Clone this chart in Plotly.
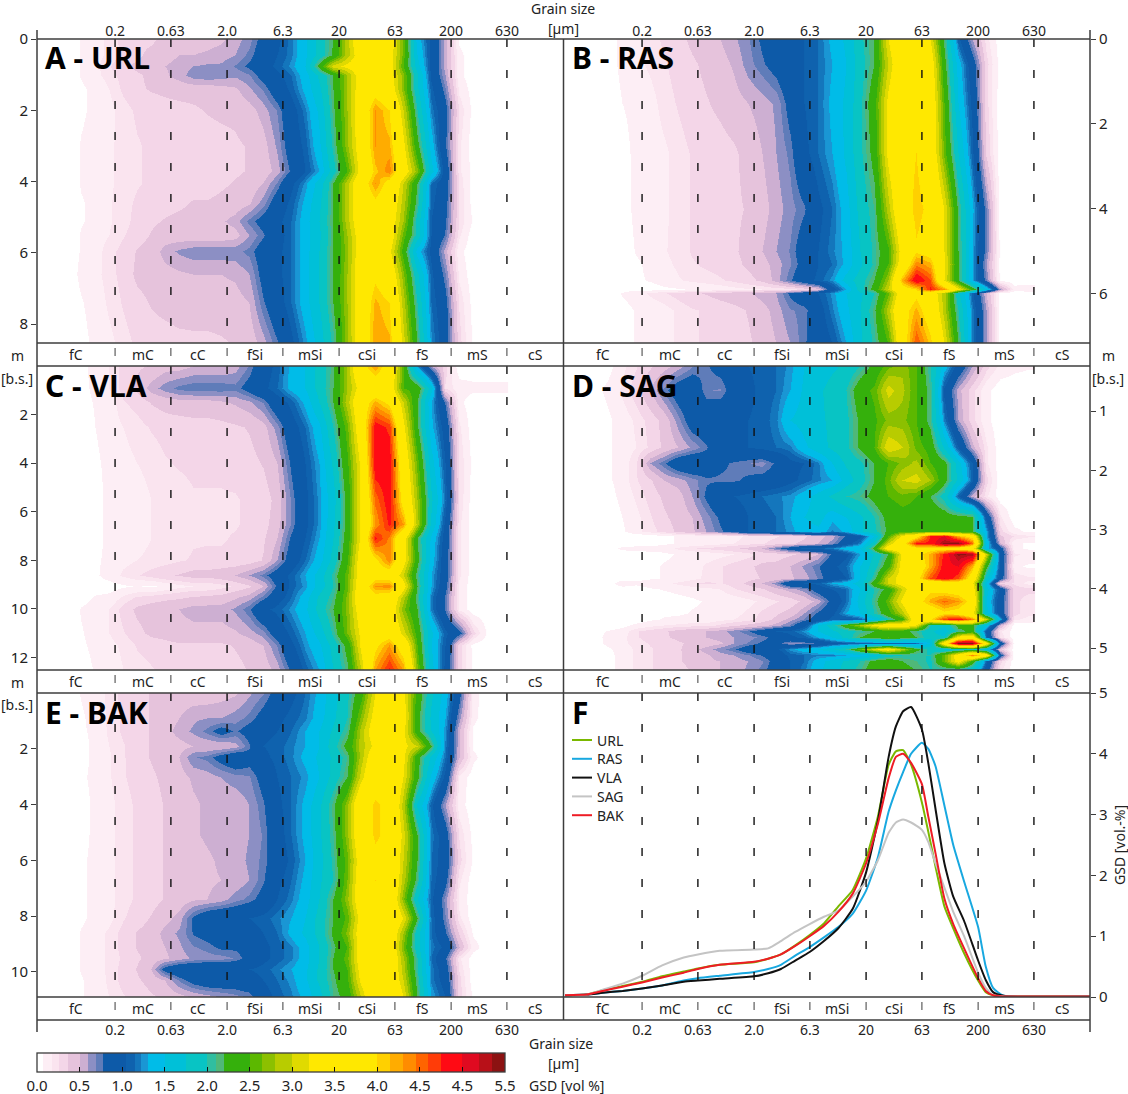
# { import the libraries
import numpy as np
import plotly.graph_objects as go
# }

# { shared labels and classes
size_ticks = [0.2, 0.63, 2.0, 6.3, 20, 63, 200, 630]
size_labels = ['0.2', '0.63', '2.0', '6.3', '20', '63', '200', '630']
class_names = ['fC', 'mC', 'cC', 'fSi', 'mSi', 'cSi', 'fS', 'mS', 'cS']
class_centers = [0.09, 0.355, 1.11, 3.55, 11, 35.5, 112, 347, 1122]
grain_um = [0.056, 0.075, 0.1, 0.133, 0.178, 0.237, 0.316, 0.422, 0.562, 0.75, 1.0,
            1.33, 1.78, 2.37, 3.16, 4.22, 5.62, 7.5, 10, 13.3, 17.8, 23.7, 31.6,
            42.2, 56.2, 75, 100, 133, 178, 237, 316, 422, 562]
# }

# { A - URL
url_depth = [0, .45, .75, 1.0, 1.4, 2, 3, 3.7, 4.05, 4.6, 5.1, 5.5, 5.95, 6.6, 7.4, 8.55]
url_gsd = [
    [0,0,.08,.15,.2,.3,.35,.35,.4,.45,.45,.45,.48,.55,.65,.85,1.0,1.2,1.45,1.85,2.2,2.9,3.7,4.0,3.5,2.6,1.4,1.0,.55,.05,0,0,0],
    [0,0,.08,.15,.2,.28,.35,.4,.45,.5,.5,.52,.55,.6,.72,.9,1.05,1.2,1.45,1.85,2.25,2.9,3.5,3.7,3.4,2.6,1.5,1.0,.55,.1,0,0,0],
    [0,0,.08,.15,.25,.35,.4,.45,.5,.55,.6,.62,.62,.7,.8,.95,1.1,1.25,1.5,2.3,3.1,3.3,3.5,3.7,3.4,2.5,1.6,1.0,.55,.1,0,0,0],
    [0,0,.08,.15,.22,.3,.35,.4,.48,.55,.65,.68,.65,.62,.68,.85,1.0,1.15,1.4,1.8,2.2,2.8,3.5,3.6,3.4,2.7,1.8,1.0,.6,.1,0,0,0],
    [0,0,.05,.1,.18,.28,.35,.38,.4,.42,.42,.42,.45,.48,.58,.7,.9,1.1,1.35,1.7,2.2,2.8,3.5,3.8,3.5,2.7,1.8,1.1,.7,.15,.02,0,0],
    [0,0,.05,.1,.15,.22,.28,.3,.32,.33,.35,.38,.4,.4,.45,.55,.7,.95,1.2,1.55,2.15,2.8,3.6,4.3,4.0,3.0,2.0,1.2,.85,.25,.03,0,0],
    [0,0,.08,.12,.17,.2,.25,.28,.3,.3,.3,.3,.32,.35,.38,.45,.62,.9,1.1,1.45,2.05,2.75,3.5,4.3,4.2,3.3,2.3,1.4,.8,.2,0,0,0],
    [0,0,.08,.12,.17,.2,.25,.28,.3,.3,.3,.3,.32,.35,.38,.42,.55,.8,1.05,1.3,1.9,2.5,3.4,4.1,4.4,3.5,2.7,1.6,.95,.2,.03,0,0],
    [0,0,.08,.12,.17,.2,.25,.28,.3,.32,.32,.32,.35,.38,.42,.5,.7,1.0,1.25,1.6,2.2,2.9,3.7,4.3,3.8,3.0,2.2,1.15,.9,.25,0,0,0],
    [0,0,.06,.1,.17,.22,.28,.3,.33,.35,.38,.38,.4,.42,.48,.65,.9,1.1,1.35,1.7,2.2,2.9,3.7,3.9,3.6,2.9,2.1,1.1,.85,.25,.02,0,0],
    [0,0,.06,.1,.17,.22,.3,.35,.38,.4,.4,.42,.48,.55,.72,.85,1.0,1.15,1.4,1.75,2.2,2.9,3.6,3.85,3.5,2.8,1.9,1.05,.8,.25,.05,0,0],
    [0,0,.08,.14,.18,.25,.32,.38,.42,.42,.42,.42,.42,.45,.6,.75,.95,1.15,1.4,1.7,2.2,2.8,3.5,3.75,3.5,2.6,1.9,1.05,.75,.2,0,0,0],
    [0,0,.08,.14,.22,.3,.38,.42,.55,.62,.66,.66,.66,.66,.72,.88,1.0,1.15,1.4,1.75,2.2,2.75,3.5,3.8,3.3,2.4,1.4,1.0,.55,.1,0,0,0],
    [0,0,.1,.15,.22,.3,.4,.42,.45,.48,.5,.5,.5,.52,.6,.85,1.0,1.15,1.4,1.75,2.2,2.8,3.6,3.9,3.6,2.7,1.8,1.1,.7,.15,0,0,0],
    [0,0,.06,.12,.2,.27,.33,.38,.42,.45,.45,.45,.45,.45,.5,.75,.95,1.15,1.4,1.75,2.2,2.8,3.6,4.2,4.0,2.9,2.0,1.15,.85,.25,.02,0,0],
    [0,0,.03,.1,.15,.22,.28,.3,.3,.32,.33,.33,.35,.38,.42,.55,.75,1.0,1.25,1.6,2.05,2.75,3.6,4.3,4.2,3.1,2.2,1.25,.9,.3,.05,0,0],
]
# }

# { B - RAS
ras_depth = [0, .6, 1.5, 2.7, 4, 5, 5.3, 5.68, 5.89, 6.0, 6.4, 7.17]
ras_gsd = [
    [0,0,.03,.1,.15,.22,.28,.33,.4,.45,.5,.58,.68,.8,.9,1.0,1.05,1.15,1.35,1.55,1.95,2.2,3.2,3.8,3.95,3.2,2.15,1.1,.6,.22,0,0,0],
    [0,0,.02,.1,.15,.2,.25,.3,.35,.4,.45,.52,.65,.75,.85,1.0,1.05,1.15,1.3,1.5,1.9,2.2,3.0,3.7,3.9,3.5,2.3,1.4,.9,.3,.02,0,0],
    [0,0,0,.07,.1,.14,.22,.27,.32,.36,.4,.45,.5,.55,.62,.85,1.05,1.15,1.35,1.55,1.95,2.4,3.3,3.8,3.95,3.6,2.5,1.5,1.0,.3,0,0,0],
    [0,0,0,.03,.1,.12,.16,.22,.27,.3,.32,.35,.42,.5,.6,.72,1.0,1.15,1.3,1.55,1.95,2.3,3.3,3.8,4.0,3.65,2.6,1.75,1.1,.35,0,0,0],
    [0,0,0,.02,.1,.12,.16,.22,.27,.3,.32,.35,.38,.45,.55,.65,.75,1.0,1.15,1.4,1.85,2.1,2.9,3.75,4.1,3.9,3.2,2.15,1.35,.7,0,0,0],
    [0,0,0,0,.08,.12,.17,.22,.27,.3,.32,.35,.42,.5,.6,.7,.9,1.05,1.2,1.35,1.75,2.05,2.45,3.4,3.95,3.8,3.2,2.2,1.3,.7,.03,0,0],
    [0,0,0,0,.05,.1,.15,.2,.25,.28,.3,.33,.4,.45,.55,.68,.85,1.05,1.15,1.35,1.7,2.05,2.5,3.5,4.4,4.2,3.25,2.2,1.3,.6,.02,0,0],
    [0,0,0,0,.05,.08,.12,.17,.2,.22,.25,.28,.33,.4,.55,.75,.95,1.1,1.25,1.6,1.9,2.2,2.8,4.2,5.0,4.6,3.2,2.2,1.3,.7,.03,0,0],
    [0,0,0,.03,.05,.02,.05,.06,.08,.1,.12,.15,.17,.18,.2,.22,.3,.45,.95,1.3,1.9,2.3,3.0,3.8,4.0,4.8,4.3,3.3,2.4,1.5,.6,.12,.15],
    [0,0,0,.08,.12,.2,.25,.3,.35,.38,.42,.45,.48,.55,.6,.8,.95,1.05,1.25,1.5,1.7,2.0,2.6,3.6,3.9,3.5,2.9,1.8,1.1,.5,.02,0,0],
    [0,0,0,.03,.08,.1,.14,.2,.25,.27,.3,.33,.38,.45,.55,.68,.72,.95,1.2,1.45,1.75,2.15,2.9,3.8,4.2,3.7,2.9,2.0,1.2,.6,.02,0,0],
    [0,0,0,.03,.08,.1,.14,.2,.25,.27,.3,.32,.35,.42,.5,.6,.75,.9,1.05,1.3,1.7,2.05,2.5,3.7,4.6,4.1,3.2,2.2,1.2,.6,.02,0,0],
]
# }

# { C - VLA
vla_depth = [0, .9, 1.5, 2.5, 4, 5.5, 6.5, 7.1, 8, 8.6, 9.05, 9.5, 10, 11, 11.5, 12.52]
vla_gsd = [
    [0,0,.03,.12,.18,.3,.35,.38,.45,.45,.5,.5,.5,.55,.7,.95,1.1,1.35,1.5,1.85,2.15,2.85,3.8,4.3,3.7,2.5,1.25,.6,.3,0,0,0,0],
    [0,0,.03,.1,.18,.3,.4,.55,.65,.72,.75,.75,.75,.72,.85,1.0,1.15,1.35,1.5,1.85,2.2,2.8,3.4,3.6,3.5,2.5,2.4,1.6,.25,.12,.1,.1,.1],
    [0,0,.03,.08,.12,.25,.3,.38,.42,.45,.45,.45,.48,.52,.58,.7,.95,1.1,1.35,1.75,2.2,2.9,3.7,4.2,3.9,3.0,2.2,1.3,.75,.1,0,0,0],
    [0,0,0,.07,.12,.18,.22,.27,.3,.3,.32,.32,.33,.35,.38,.45,.65,.95,1.15,1.45,2.0,2.6,3.6,4.9,4.7,3.3,2.25,1.35,.95,.2,0,0,0],
    [0,0,0,.05,.1,.15,.18,.2,.25,.27,.28,.28,.28,.3,.33,.38,.5,.8,1.05,1.3,1.8,2.45,3.3,4.95,4.9,3.6,2.6,1.6,1.05,.25,.03,0,0],
    [0,0,0,.03,.1,.12,.15,.18,.2,.22,.25,.25,.25,.25,.28,.3,.42,.7,1.0,1.25,1.65,2.3,3.3,4.5,4.9,3.8,2.8,1.8,1.15,.25,0,0,0],
    [0,0,0,.03,.1,.12,.15,.18,.2,.22,.25,.25,.25,.25,.28,.32,.45,.7,1.0,1.25,1.7,2.3,3.3,4.3,4.8,4.3,2.9,1.7,1.0,.2,0,0,0],
    [0,0,0,.03,.1,.12,.15,.18,.2,.22,.25,.25,.25,.27,.3,.35,.5,.8,1.05,1.3,1.75,2.35,3.3,4.8,4.4,3.4,2.2,1.45,.95,.2,0,0,0],
    [0,0,0,.05,.1,.15,.18,.2,.22,.25,.27,.28,.28,.28,.3,.38,.6,.9,1.15,1.4,1.85,2.45,3.5,3.9,4.4,3.4,2.3,1.4,.9,.2,0,0,0],
    [0,0,0,.05,.12,.2,.25,.3,.35,.38,.42,.42,.45,.5,.6,.72,.9,1.1,1.3,1.6,2.05,2.6,3.5,3.8,3.7,3.0,2.1,1.3,.9,.2,0,0,0],
    [0,0,0,.02,.02,.05,.08,.05,.1,.15,.18,.18,.22,.28,.35,.5,.8,1.1,1.25,1.6,2.0,2.6,3.6,4.3,4.4,3.4,2.2,1.3,.85,.15,0,0,0],
    [0,0,.02,.08,.1,.2,.27,.3,.33,.35,.38,.4,.42,.48,.55,.72,.95,1.15,1.4,1.8,2.1,2.7,3.7,3.85,3.7,2.9,2.1,1.2,.75,.15,0,0,0],
    [0,0,.08,.12,.18,.3,.4,.45,.48,.5,.55,.55,.55,.62,.75,1.0,1.1,1.25,1.45,1.85,2.2,2.7,3.5,3.7,3.6,2.7,2.2,1.2,.75,.15,0,0,0],
    [0,0,.06,.12,.18,.25,.33,.4,.42,.45,.45,.45,.45,.48,.55,.65,.9,1.1,1.3,1.6,2.05,2.65,3.3,3.7,3.75,3.1,2.4,1.55,1.1,.85,.3,.05,.02],
    [0,0,.05,.1,.15,.2,.27,.3,.33,.35,.35,.35,.35,.38,.42,.5,.7,1.0,1.25,1.45,1.85,2.3,3.3,3.9,4.3,3.7,2.5,1.5,1.05,.3,.03,0,0],
    [0,0,.02,.08,.12,.18,.22,.25,.28,.3,.3,.3,.3,.33,.38,.42,.55,.8,1.1,1.3,1.75,2.15,3.0,4.3,4.8,4.3,2.7,1.6,1.0,.3,.05,0,0],
]
# }

# { D - SAG
sag_depth = [.24, .645, 1.15, 1.6, 1.88, 2.16, 2.44, 2.78, 3.03, 3.11, 3.22, 3.31, 3.41, 3.62, 3.82,
             3.91, 4.01, 4.21, 4.41, 4.51, 4.61, 4.71, 4.81, 4.91, 5.01, 5.11, 5.22, 5.37]
sag_gsd = [
    [0,0,.03,.15,.25,.35,.45,.55,.68,.75,.85,.9,1.05,1.1,1.15,1.25,1.5,1.6,1.7,1.8,2.0,2.3,2.6,2.75,2.5,2.0,1.4,.95,.6,.3,.15,.1,.08],
    [0,.03,.1,.2,.32,.5,.72,.9,.95,.7,.68,.9,1.0,1.1,1.15,1.3,1.55,1.7,1.85,2.0,2.4,2.55,3.1,2.85,2.5,2.1,1.0,.55,.3,.1,0,0,0],
    [0,0,.05,.12,.2,.3,.42,.65,.9,.95,1.0,1.0,1.05,1.1,1.2,1.5,1.6,1.7,1.8,1.95,2.25,2.45,2.7,2.7,2.5,2.1,1.2,.6,.3,.1,0,0,0],
    [0,0,.05,.12,.18,.28,.4,.5,.62,.75,1.0,1.0,1.05,1.1,1.15,1.2,1.45,1.65,1.8,1.95,2.25,2.5,3.2,3.0,2.6,2.4,1.7,1.05,.55,.2,0,0,0],
    [0,0,.05,.12,.25,.6,.75,.95,1.0,.9,.8,.75,.7,.65,.8,1.0,1.05,1.2,1.5,1.8,1.95,2.2,2.5,2.7,2.85,2.5,2.3,1.6,1.05,.2,0,0,0],
    [0,0,.05,.12,.25,.35,.5,.55,.65,.75,.75,.75,.8,.85,.9,1.0,1.1,1.2,1.3,1.6,1.9,2.2,2.6,3.0,3.1,2.8,2.3,1.7,1.1,.3,0,0,0],
    [0,0,.03,.1,.2,.3,.4,.45,.6,.8,1.0,1.05,1.1,1.15,1.2,1.25,1.4,1.6,1.8,2.0,2.1,2.3,2.5,2.6,2.5,2.2,1.9,1.1,.55,.2,0,0,0],
    [0,0,0,.07,.15,.25,.35,.42,.5,.65,.8,.95,1.05,1.1,1.15,1.3,1.5,1.6,1.35,1.5,1.7,2.0,2.3,2.4,2.4,2.4,2.35,2.3,2.25,1.0,.2,0,0],
    [0,0,0,.05,.15,.22,.3,.4,.48,.6,.75,.85,1.05,1.1,1.15,1.25,1.4,1.45,1.2,1.35,1.7,1.95,2.25,2.4,2.4,2.4,2.35,2.3,2.2,1.3,.3,.1,.05],
    [0,0,0,0,0,0,.05,.08,.1,.1,.1,.15,.2,.22,.25,.3,.35,.45,.55,.8,1.0,1.5,2.5,3.3,3.8,4.8,5.0,4.2,3.8,1.3,.4,.25,.2],
    [0,0,0,0,0,0,.05,.08,.1,.12,.15,.18,.22,.25,.3,.35,.4,.5,.65,.95,1.2,1.9,3.0,3.7,4.8,4.8,5.4,5.4,4.5,1.5,.5,.1,.05],
    [0,0,0,.1,.12,.15,.12,.2,.25,.28,.3,.35,.4,.5,.7,.9,1.1,1.1,1.2,1.4,1.5,2.3,3.5,3.6,3.8,3.8,3.8,3.7,3.5,1.4,.9,.1,.05],
    [0,0,0,0,0,0,.05,.08,.1,.12,.15,.18,.22,.3,.3,.35,.4,.5,.8,1.0,1.3,1.8,2.2,3.3,3.8,4.2,4.8,5.4,5.3,3.0,1.0,.2,.15],
    [0,0,0,0,0,.05,.08,.1,.12,.2,.25,.3,.35,.4,.42,.5,.62,.75,1.0,1.15,1.5,1.9,2.4,3.4,3.6,4.2,4.9,5.0,4.2,2.3,1.0,.1,.05],
    [0,0,0,0,.03,.05,.08,.1,.15,.2,.25,.3,.33,.38,.42,.48,.55,.7,.9,1.05,1.5,2.1,3.0,3.4,3.8,4.6,5.0,4.6,3.7,1.8,.9,.25,.2],
    [0,0,0,.15,.1,.15,.15,.2,.25,.28,.25,.3,.4,.5,.65,1.0,1.05,1.1,1.3,1.4,1.6,2.4,3.0,3.4,3.4,3.3,3.4,3.6,3.3,1.5,.3,.25,.15],
    [0,0,0,0,0,.05,.08,.1,.12,.15,.18,.25,.3,.35,.45,.55,.65,.9,1.05,1.15,1.5,2.0,2.3,3.0,3.7,3.9,3.8,3.7,3.5,1.6,1.0,.3,.3],
    [0,0,0,0,0,0,0,.03,.05,.08,.1,.12,.15,.2,.25,.3,.4,.55,.85,1.15,1.6,2.1,2.6,3.3,3.8,4.2,4.5,4.3,3.8,1.5,.9,.3,.2],
    [0,0,0,0,0,.03,.05,.05,.08,.1,.12,.15,.2,.28,.35,.42,.6,.8,1.0,1.3,1.5,2.0,2.4,2.9,3.7,3.6,3.9,3.8,3.4,1.6,.9,.3,.2],
    [0,0,0,0,0,.05,.08,.1,.12,.12,.15,.18,.22,.3,.4,.55,.7,.9,1.1,1.0,1.1,1.5,2.0,2.4,3.7,3.9,4.7,4.9,4.4,3.0,1.3,.2,.15],
    [0,0,0,.03,.1,.15,.18,.2,.22,.22,.28,.35,.4,.45,.55,.7,1.0,1.5,1.9,2.4,2.8,3.3,3.6,3.6,3.2,2.0,1.8,2.3,2.3,1.5,.5,0,0],
    [0,.03,.08,.12,.25,.3,.35,.42,.48,.5,.55,.65,.75,.9,1.05,1.1,1.25,1.5,1.7,1.9,2.05,2.2,2.4,2.3,2.1,1.8,1.6,2.1,2.3,1.0,.2,0,0],
    [0,.03,.1,.15,.25,.3,.35,.4,.45,.5,.55,.6,.65,.72,.85,1.0,1.1,1.3,1.5,1.85,2.2,2.35,2.5,2.4,2.2,1.8,1.8,3.4,3.6,1.1,.25,0,0],
    [0,.02,.1,.15,.22,.27,.3,.35,.4,.42,.48,.6,.7,.8,.85,.65,.7,.8,1.0,1.05,1.05,1.1,1.1,1.1,1.15,1.5,3.6,5.4,5.4,3.5,1.0,0,0],
    [0,.02,.05,.12,.2,.25,.3,.35,.45,.55,.65,.75,.9,1.0,1.0,1.25,1.4,1.5,1.7,2.0,2.6,3.1,3.5,2.9,2.3,1.9,1.7,1.8,2.0,1.6,.4,0,0],
    [0,0,.03,.12,.2,.25,.3,.35,.42,.48,.55,.6,.68,.78,.9,1.1,1.15,1.2,1.2,1.3,1.4,1.6,1.9,2.0,2.0,2.0,2.6,3.5,4.4,3.6,.9,0,0],
    [0,0,.03,.12,.2,.25,.3,.35,.42,.48,.5,.55,.6,.68,.85,1.05,1.15,1.4,1.6,1.8,2.0,2.3,2.4,2.2,2.1,1.95,2.6,3.4,2.4,1.1,.3,0,0],
    [0,0,.02,.12,.2,.25,.3,.32,.38,.45,.5,.55,.62,.72,.9,1.05,1.2,1.45,1.65,1.85,2.1,2.4,2.5,2.3,2.2,2.0,1.95,1.9,1.7,.9,.2,0,0],
]
# }

# { E - BAK
bak_depth = [0, .9, 1.35, 1.9, 2.3, 3, 4, 5.1, 6, 6.7, 7.4, 8.05, 8.6, 9.1, 9.5, 9.9, 10.3, 10.9]
bak_gsd = [
    [0,0,.08,.14,.2,.3,.33,.38,.42,.42,.42,.42,.45,.48,.58,.68,.85,1.0,1.15,1.35,1.65,1.95,2.4,3.2,3.8,3.3,2.4,1.8,1.4,.85,.12,0,0],
    [0,0,.05,.12,.2,.28,.32,.38,.42,.5,.58,.6,.6,.65,.72,.85,1.0,1.1,1.2,1.4,1.7,2.0,2.7,3.4,3.85,3.4,2.3,1.7,1.3,.65,.1,0,0],
    [0,0,.05,.1,.2,.28,.32,.38,.45,.55,.62,.72,.85,.75,.85,1.0,1.05,1.15,1.3,1.5,1.8,2.1,2.9,3.5,3.8,3.3,2.3,1.75,1.25,.5,.05,0,0],
    [0,0,.03,.1,.18,.25,.32,.38,.42,.45,.5,.5,.5,.55,.75,1.05,1.1,1.2,1.3,1.5,1.9,2.3,2.9,3.3,3.7,3.3,3.0,2.2,1.2,.5,.05,0,0],
    [0,0,.03,.1,.17,.25,.32,.38,.42,.5,.68,.72,.85,.95,.85,1.0,1.1,1.2,1.35,1.55,1.8,2.1,2.9,3.6,3.9,3.3,2.3,1.7,1.15,.5,.1,0,0],
    [0,0,.05,.1,.17,.25,.3,.35,.4,.45,.52,.55,.6,.65,.68,.85,1.05,1.15,1.25,1.5,1.85,2.2,3.1,3.8,3.9,3.2,2.3,1.45,1.0,.15,0,0,0],
    [0,0,.02,.1,.15,.22,.28,.32,.38,.42,.48,.52,.52,.52,.6,.75,1.0,1.15,1.35,1.7,2.15,2.75,3.8,4.05,3.9,2.9,1.7,1.1,.6,.12,0,0,0],
    [0,0,.03,.1,.15,.22,.28,.33,.38,.42,.48,.52,.55,.55,.6,.7,.95,1.15,1.35,1.7,2.1,2.75,3.7,4.05,3.9,3.1,2.2,1.2,.9,.25,.03,0,0],
    [0,0,.05,.1,.15,.22,.28,.33,.38,.42,.45,.48,.52,.55,.62,.72,.9,1.1,1.3,1.65,2.05,2.6,3.5,3.9,3.8,3.0,2.2,1.15,.95,.3,.05,0,0],
    [0,0,.05,.1,.15,.22,.28,.32,.38,.42,.45,.48,.5,.52,.6,.75,1.0,1.15,1.35,1.7,2.0,2.65,3.6,4.0,3.9,2.9,2.1,1.15,.85,.2,0,0,0],
    [0,0,.05,.1,.15,.22,.28,.33,.38,.42,.48,.5,.55,.65,.72,.85,1.05,1.2,1.4,1.75,2.2,2.75,3.6,3.85,3.8,2.7,1.75,1.1,.65,.15,0,0,0],
    [0,0,.05,.1,.15,.25,.32,.38,.45,.55,.8,.95,1.0,1.0,1.05,1.1,1.2,1.3,1.5,1.85,2.2,2.55,3.4,3.8,3.8,3.2,2.2,1.15,.7,.2,0,0,0],
    [0,0,.08,.14,.2,.3,.38,.42,.55,.62,.78,.85,.95,.95,.98,1.05,1.15,1.35,1.55,1.85,2.25,2.7,3.5,3.75,3.7,2.8,1.85,1.15,.8,.35,.05,0,0],
    [0,0,.08,.14,.2,.3,.38,.42,.5,.58,.68,.72,.8,.8,.85,1.0,1.1,1.2,1.4,1.75,2.15,2.5,3.5,3.75,3.7,2.65,1.85,1.2,1.0,.5,.12,0,0],
    [0,0,.08,.14,.2,.28,.35,.42,.48,.55,.62,.65,.65,.7,.85,1.0,1.1,1.2,1.4,1.75,2.2,2.6,3.5,3.75,3.75,2.85,2.0,1.15,.8,.2,0,0,0],
    [0,0,.08,.14,.2,.3,.38,.5,.85,.98,1.0,1.0,1.0,1.0,1.05,1.1,1.2,1.3,1.45,1.8,2.2,2.5,3.4,3.7,3.7,2.9,2.0,1.2,.9,.25,0,0,0],
    [0,0,.06,.12,.2,.3,.35,.42,.5,.7,.85,.92,.92,.9,.95,1.05,1.15,1.25,1.45,1.8,2.15,2.45,3.3,3.7,3.7,3.0,2.1,1.2,.95,.3,0,0,0],
    [0,0,.06,.12,.18,.25,.3,.35,.4,.45,.5,.55,.6,.65,.7,.95,1.1,1.2,1.35,1.65,2.1,2.3,3.0,3.75,3.85,3.2,2.2,1.3,1.05,.3,.05,0,0],
]
# }

# { F - mean curves
mean_um = [0.041, 0.064, 0.089, 0.134, 0.2, 0.302, 0.471, 0.63, 0.986, 2.0, 2.67, 3.47, 4.66, 6.27,
           8.41, 11.3, 15.2, 20, 25.5, 31.8, 36.9, 42.8, 50.4, 63, 71.8, 83.2, 100, 120, 150, 200,
           234, 272, 339, 2040]
mean_url = [.03,.04,.11,.18,.25,.34,.42,.47,.53,.57,.63,.70,.85,1.02,1.21,1.49,1.76,2.28,2.97,3.82,4.04,4.06,3.82,3.2,2.72,2.15,1.49,1.13,.72,.27,.08,.03,.01,.01]
mean_ras = [.03,.04,.07,.10,.14,.19,.27,.31,.35,.41,.46,.53,.68,.82,.98,1.15,1.37,1.75,2.3,3.05,3.4,3.7,4.0,4.18,4.08,3.8,3.15,2.5,1.9,1.15,.5,.15,.02,.01]
mean_vla = [.03,.04,.07,.10,.14,.19,.25,.27,.30,.34,.39,.46,.60,.74,.92,1.13,1.45,2.05,2.9,3.95,4.45,4.7,4.77,4.4,3.85,3.1,2.2,1.65,1.25,.6,.28,.08,.02,.01]
mean_sag = [.03,.04,.12,.22,.35,.52,.65,.70,.76,.78,.80,.92,1.07,1.2,1.32,1.42,1.65,1.9,2.25,2.7,2.87,2.92,2.87,2.75,2.55,2.2,1.8,1.4,1.0,.4,.15,.03,.01,.01]
mean_bak = [.03,.04,.10,.17,.24,.32,.40,.46,.53,.58,.63,.70,.84,1.00,1.17,1.40,1.70,2.20,2.85,3.6,3.95,4.0,3.85,3.5,2.97,2.37,1.62,1.2,.8,.31,.1,.03,.01,.01]
# }

# { colour bar
cbar_edges = [0, .07, .18, .26, .37, .5, .6, .69, .77, 1.05, 1.15, 1.22, 1.3, 1.5, 1.75, 2.0, 2.1, 2.2,
              2.5, 2.65, 2.8, 3.0, 3.2, 4.0, 4.15, 4.3, 4.45, 4.6, 4.75, 5.0, 5.2, 5.35, 5.5]
cbar_colors = ['#ffffff', '#fdeef5', '#fae4ef', '#f4d6e8', '#e6c3dc', '#cdafd2', '#8c8fc4', '#5f7cb9',
               '#0d5aa8', '#0f62ae', '#1476bc', '#1a96d4', '#00bce8', '#00c0d8', '#08c4c4', '#30bea0',
               '#50b878', '#35b00c', '#5cb800', '#8cc000', '#b8cc00', '#e0da00', '#ffe800', '#ffd000',
               '#ffac00', '#ff8c00', '#ff6400', '#ff3c08', '#ff0a14', '#e00a20', '#b81018', '#8c1212']
cbar_ticks = [0, .5, 1, 1.5, 2, 2.5, 3, 3.5, 4, 4.5, 5, 5.5]
cbar_labels = ['0.0', '0.5', '1.0', '1.5', '2.0', '2.5', '3.0', '3.5', '4.0', '4.5', '4.5', '5.5']
# }

W, H = 1128, 1094
FONT = 'Noto Sans'
LINE = '#3c3c3c'


def fx(px):
    return px / W


def fy(py):
    return 1 - py / H


def add_text(text, px, py, anchor='center', size=14, angle=0, color='#222'):
    annotations.append(dict(text=text, xref='paper', yref='paper', x=fx(px), y=fy(py), xanchor=anchor,
                            yanchor='middle', textangle=angle, showarrow=False,
                            font=dict(family=FONT, size=size, color=color)))


colorscale = []
for i, c in enumerate(cbar_colors):
    colorscale.append([cbar_edges[i] / 5.5, c])
    colorscale.append([cbar_edges[i + 1] / 5.5, c])

log_um = np.log10(grain_um)
log_ticks = np.log10(size_ticks)
x_range = [-1.396, 3.3]

# name, axis index, left px, right px, top px, bottom px, band bottom px, depths, values, max depth, depth ticks
panels = [
    ('A - URL', 1, 37, 563, 39, 343, 366, url_depth, url_gsd, 8.53, [0, 2, 4, 6, 8]),
    ('B - RAS', 2, 564, 1090, 39, 343, 366, ras_depth, ras_gsd, 7.17, [0, 2, 4, 6]),
    ('C - VLA', 3, 37, 563, 366, 670, 693, vla_depth, vla_gsd, 12.52, [2, 4, 6, 8, 10, 12]),
    ('D - SAG', 4, 564, 1090, 366, 670, 693, sag_depth, sag_gsd, 5.37, [1, 2, 3, 4, 5]),
    ('E - BAK', 5, 37, 563, 693, 997, 1020, bak_depth, bak_gsd, 10.9, [2, 4, 6, 8, 10]),
    ('F', 6, 564, 1090, 693, 997, 1020, None, None, None, [0, 1, 2, 3, 4, 5]),
]
top_depth = {1: 0, 2: 0, 3: 0, 4: .24, 5: 0}

fig = go.Figure()
shapes = []
annotations = []
layout_axes = {}

for name, n, left, right, top, bottom, band, depth, gsd, max_depth, depth_ticks in panels:
    xname, yname = f'x{n}', f'y{n}'
    on_right = n % 2 == 0

    # { heat map or mean curves
    if gsd is not None:
        fig.add_trace(go.Heatmap(x=log_um, y=depth, z=gsd, xaxis=xname, yaxis=yname,
                                 coloraxis='coloraxis', zsmooth='best', showlegend=False))
        y_range = [max_depth, top_depth[n]]
    else:
        y_range = [0, 5]
        key_y = 740
        for label, vals, col in [('URL', mean_url, '#7ab800'), ('RAS', mean_ras, '#18a8e0'),
                                 ('VLA', mean_vla, '#111111'), ('SAG', mean_sag, '#c4c4c4'),
                                 ('BAK', mean_bak, '#ee1c25')]:
            fig.add_trace(go.Scatter(x=np.log10(mean_um), y=vals, xaxis=xname, yaxis=yname, name=label,
                                     mode='lines', showlegend=False,
                                     line=dict(color=col, width=2, shape='spline', smoothing=0.5)))
            shapes.append(dict(type='line', xref='paper', yref='paper', x0=fx(572), x1=fx(592), y0=fy(key_y), y1=fy(key_y),
                               line=dict(color=col, width=2)))
            add_text(label, 595, key_y, anchor='left')
            key_y += 18.8
    # }

    xaxis = dict(domain=[fx(left), fx(right)], range=x_range, anchor=yname, showgrid=False, zeroline=False,
                 showline=False, ticks='', showticklabels=False, tickvals=list(log_ticks), ticktext=size_labels,
                 tickfont=dict(family=FONT, size=14, color='#222'))
    if n <= 2:
        xaxis.update(showticklabels=True, side='top', anchor='free', position=fy(top), ticklen=0)
    if n >= 5:
        xaxis.update(showticklabels=True, side='bottom', anchor='free', position=fy(band), ticklen=0)
    yaxis = dict(domain=[fy(bottom), fy(top)], range=y_range, anchor=xname, side='right' if on_right else 'left',
                 showgrid=False, zeroline=False, showline=False, ticks='outside', ticklen=5, tickwidth=1.3,
                 tickcolor=LINE, tickvals=depth_ticks, tickfont=dict(family=FONT, size=15, color='#222'))
    layout_axes[f'xaxis{n}'] = xaxis
    layout_axes[f'yaxis{n}'] = yaxis

    # { dashed class limits and the class band below each panel
    for v in log_ticks:
        shapes.append(dict(type='line', xref=xname, yref='paper', x0=v, x1=v, y0=fy(top), y1=fy(bottom),
                           line=dict(color='#111', width=1.4, dash='8px,23px')))
        shapes.append(dict(type='line', xref=xname, yref='paper', x0=v, x1=v, y0=fy(bottom + 5), y1=fy(bottom + 13),
                           line=dict(color=LINE, width=1)))
    for cname, center in zip(class_names, class_centers):
        annotations.append(dict(text=cname, xref=xname, yref='paper', x=np.log10(center), y=fy((bottom + band) / 2),
                                xanchor='center', yanchor='middle', showarrow=False,
                                font=dict(family=FONT, size=14, color='#222')))
    annotations.append(dict(text=f'<b>{name}</b>', xref='paper', yref='paper', x=fx(left + 6), y=fy(top + 19),
                            xanchor='left', yanchor='middle', showarrow=False,
                            font=dict(family=FONT, size=30, color='black', weight=900)))
    # }

# { frame lines
for py in [39, 343, 366, 670, 693, 997, 1020]:
    shapes.append(dict(type='line', xref='paper', yref='paper', x0=fx(37), x1=fx(1090), y0=fy(py), y1=fy(py),
                       line=dict(color=LINE, width=1.3)))
for px, y0, y1 in [(37, 30, 1032), (563.5, 39, 1020), (1090, 30, 1032)]:
    shapes.append(dict(type='line', xref='paper', yref='paper', x0=fx(px), x1=fx(px), y0=fy(y0), y1=fy(y1),
                       line=dict(color=LINE, width=1.5)))
# }

# { loose texts
add_text('Grain size', 563, 8)
add_text('[µm]', 563, 29)
add_text('Grain size', 561, 1043)
add_text('[µm]', 563, 1063)
add_text('GSD [vol %]', 527, 1085, anchor='left')
add_text('m', 17, 355)
add_text('[b.s.]', 17, 378)
add_text('m', 17, 682)
add_text('[b.s.]', 17, 704)
add_text('m', 1108, 355)
add_text('[b.s.]', 1108, 378)
add_text('GSD [vol.-%]', 1119, 845, angle=-90)
# }

fig.update_layout(
    width=W, height=H, margin=dict(l=0, r=0, t=0, b=0, autoexpand=False), paper_bgcolor='white', plot_bgcolor='white',
    shapes=shapes, annotations=annotations,
    coloraxis=dict(colorscale=colorscale, cmin=0, cmax=5.5,
                   colorbar=dict(orientation='h', x=fx(37), xanchor='left', y=fy(1053), yanchor='top',
                                 len=(505 - 37) / W, lenmode='fraction', thickness=19, thicknessmode='pixels',
                                 xpad=0, ypad=0, tickvals=cbar_ticks, ticktext=cbar_labels, ticks='inside',
                                 ticklen=5, tickcolor='#111', outlinecolor=LINE, outlinewidth=1.3,
                                 tickfont=dict(family=FONT, size=15, color='#222'))),
    **layout_axes,
)

fig.write_html("out.html", config={'displayModeBar': False}, post_script="document.body.style.margin='0';")
